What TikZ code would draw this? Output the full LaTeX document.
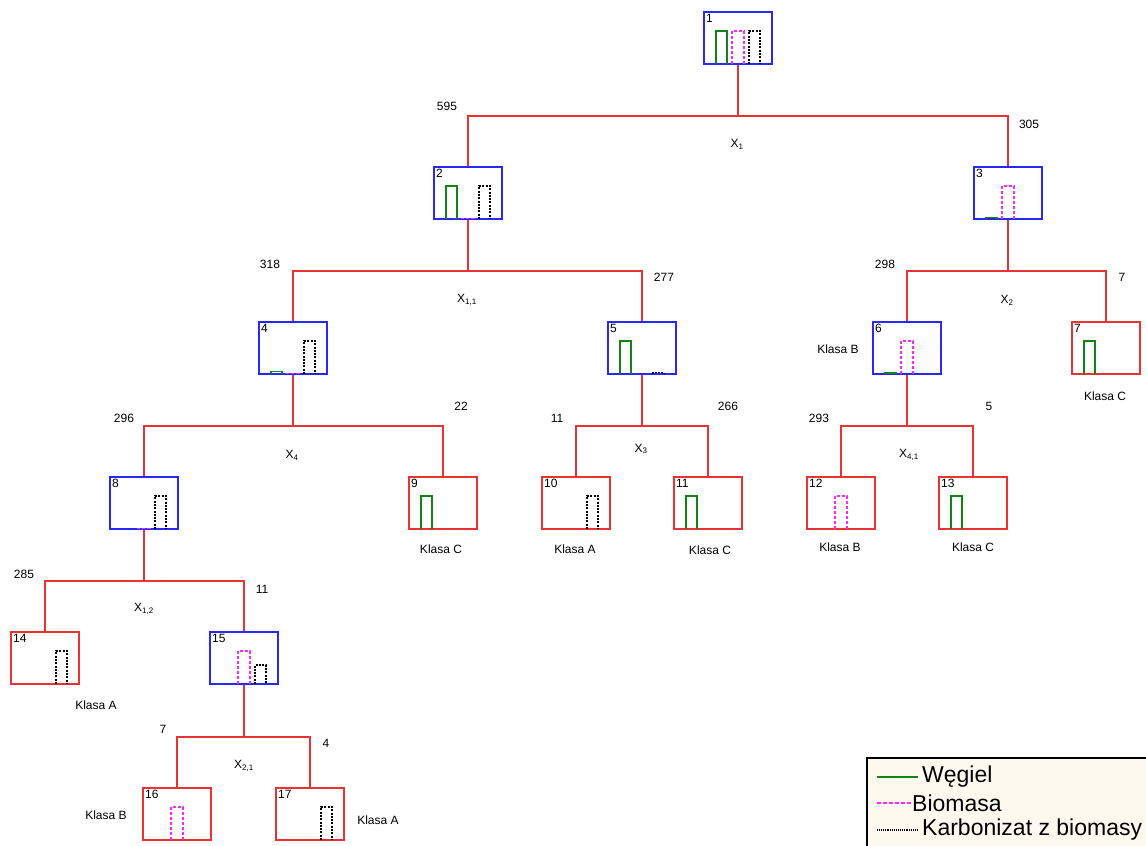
\documentclass[tikz,border=0pt]{standalone}
\usepackage{fontspec}
\setmainfont{Liberation Sans}
\definecolor{boxblue}{RGB}{40,40,250}
\definecolor{boxred}{RGB}{235,50,50}
\definecolor{bargreen}{RGB}{20,130,20}
\definecolor{barpink}{RGB}{250,40,250}
\definecolor{legfill}{RGB}{253,249,238}
\tikzset{
  tbox/.style={draw, line width=2pt, minimum width=68pt, minimum height=52pt, inner sep=0pt, fill=white},
  inner/.style={tbox, draw=boxblue},
  leaf/.style={tbox, draw=boxred},
  conn/.style={draw=boxred, line width=2pt},
  num/.style={font=\fontsize{12}{14}\selectfont, inner sep=0pt, anchor=north west},
  lbl/.style={font=\fontsize{12}{14}\selectfont, inner sep=0pt},
  gbar/.style={draw=bargreen, line width=1.4pt},
  pbar/.style={draw=barpink, line width=1.4pt, dash pattern=on 3pt off 2pt},
  kbar/.style={draw=black, line width=1.3pt, dash pattern=on 2pt off 1.3pt},
  legtext/.style={anchor=west, inner sep=0pt, font=\fontsize{23}{25}\selectfont},
}
% #1 cx, #2 bottom, #3 height
\newcommand\gb[3]{\draw[gbar] (#1-22,#2) -- (#1-22,#2-#3) -- (#1-11,#2-#3) -- (#1-11,#2);}
\newcommand\pb[3]{\draw[pbar] (#1-6,#2) -- (#1-6,#2-#3) -- (#1+6,#2-#3) -- (#1+6,#2);}
\newcommand\kb[3]{\draw[kbar] (#1+11,#2) -- (#1+11,#2-#3) -- (#1+22,#2-#3) -- (#1+22,#2);}
\newcommand\mynode[5]{% style, name, cx, cy, number
  \node[#1] (#2) at (#3,#4) {};
  \node[num] (#2num) at ([xshift=3pt,yshift=-3pt]#2.north west) {#5};
}
\begin{document}
\begin{tikzpicture}[x=1pt,y=-1pt]
\useasboundingbox (0,0) rectangle (1146,846);
\clip (0,0) rectangle (1146,846);
\coordinate (c1) at (0,116);
\coordinate (c2) at (0,271);
\coordinate (c3) at (0,426);
\coordinate (c4) at (0,581);
\coordinate (c5) at (0,737);
% nodes
\mynode{inner}{n1}{738}{38}{1}
\mynode{inner}{n2}{468}{193}{2}
\mynode{inner}{n3}{1008}{193}{3}
\mynode{inner}{n4}{293}{348}{4}
\mynode{inner}{n5}{642}{348}{5}
\mynode{inner}{n6}{907}{348}{6}
\mynode{leaf}{n7}{1106}{348}{7}
\mynode{inner}{n8}{144}{503}{8}
\mynode{leaf}{n9}{443}{503}{9}
\mynode{leaf}{n10}{576}{503}{10}
\mynode{leaf}{n11}{708}{503}{11}
\mynode{leaf}{n12}{841}{503}{12}
\mynode{leaf}{n13}{973}{503}{13}
\mynode{leaf}{n14}{45}{658}{14}
\mynode{inner}{n15}{244}{658}{15}
\mynode{leaf}{n16}{177}{814}{16}
\mynode{leaf}{n17}{310}{814}{17}
% bars
\gb{738}{64}{33}\pb{738}{64}{33}\kb{738}{64}{33}
\gb{468}{219}{33}\pb{468}{219}{0.8}\kb{468}{219}{33}
\gb{1008}{219}{1.5}\pb{1008}{219}{33}
\gb{293}{374}{2.5}\pb{293}{374}{0.8}\kb{293}{374}{33}
\gb{642}{374}{33}\kb{642}{374}{1.5}
\gb{907}{374}{1}\pb{907}{374}{33}
\gb{1106}{374}{33}
\pb{144}{529}{0.8}\kb{144}{529}{33}
\gb{443}{529}{33}
\kb{576}{529}{33}
\gb{708}{529}{33}
\pb{841}{529}{33}
\gb{973}{529}{33}
\kb{45}{684}{33}
\pb{244}{684}{33}\kb{244}{684}{19}
\pb{177}{840}{33}
\kb{310}{840}{33}
% connectors
\draw[conn] (n1.south) -- (n1.south |- c1) -| (n2.north);
\draw[conn] (n1.south |- c1) -| (n3.north);
\draw[conn] (n2.south) -- (n2.south |- c2) -| (n4.north);
\draw[conn] (n2.south |- c2) -| (n5.north);
\draw[conn] (n3.south) -- (n3.south |- c2) -| (n6.north);
\draw[conn] (n3.south |- c2) -| (n7.north);
\draw[conn] (n4.south) -- (n4.south |- c3) -| (n8.north);
\draw[conn] (n4.south |- c3) -| (n9.north);
\draw[conn] (n5.south) -- (n5.south |- c3) -| (n10.north);
\draw[conn] (n5.south |- c3) -| (n11.north);
\draw[conn] (n6.south) -- (n6.south |- c3) -| (n12.north);
\draw[conn] (n6.south |- c3) -| (n13.north);
\draw[conn] (n8.south) -- (n8.south |- c4) -| (n14.north);
\draw[conn] (n8.south |- c4) -| (n15.north);
\draw[conn] (n15.south) -- (n15.south |- c5) -| (n16.north);
\draw[conn] (n15.south |- c5) -| (n17.north);
% edge labels
\node[lbl] (e1) at (447,106) {595};
\node[lbl] (e2) at (1029,124) {305};
\node[lbl] (s1) at (737,144) {X\textsubscript{1}};
\node[lbl] (e3) at (270,264) {318};
\node[lbl] (e4) at (664,277) {277};
\node[lbl] (s2) at (467,300) {X\textsubscript{1,1}};
\node[lbl] (e5) at (885,264) {298};
\node[lbl] (e6) at (1122,277) {7};
\node[lbl] (s3) at (1007,300) {X\textsubscript{2}};
\node[lbl] (e7) at (124,418) {296};
\node[lbl] (e8) at (461,406) {22};
\node[lbl] (s4) at (292,455) {X\textsubscript{4}};
\node[lbl] (e9) at (557,418) {11};
\node[lbl] (e10) at (728,406) {266};
\node[lbl] (s5) at (641,449) {X\textsubscript{3}};
\node[lbl] (e11) at (819,418) {293};
\node[lbl] (e12) at (989,406) {5};
\node[lbl] (s6) at (909,455) {X\textsubscript{4,1}};
\node[lbl] (e13) at (24,574) {285};
\node[lbl] (e14) at (262,589) {11};
\node[lbl] (s7) at (144,609) {X\textsubscript{1,2}};
\node[lbl] (e15) at (163,729) {7};
\node[lbl] (e16) at (326,743) {4};
\node[lbl] (s8) at (244,766) {X\textsubscript{2,1}};
% class labels
\node[lbl] (k6) at (838,349) {Klasa B};
\node[lbl] (k7) at (1105,396) {Klasa C};
\node[lbl] (k9) at (441,549) {Klasa C};
\node[lbl] (k10) at (575,549) {Klasa A};
\node[lbl] (k11) at (710,550) {Klasa C};
\node[lbl] (k12) at (840,547) {Klasa B};
\node[lbl] (k13) at (973,547) {Klasa C};
\node[lbl] (k14) at (96,705) {Klasa A};
\node[lbl] (k16) at (106,815) {Klasa B};
\node[lbl] (k17) at (378,820) {Klasa A};
% legend
\node[draw=black, line width=1.5pt, fill=legfill, minimum width=300pt, minimum height=110pt, anchor=north west, inner sep=0pt] (leg) at (866,757) {};
\coordinate (lg1a) at (877,777); \coordinate (lg1b) at (918,777);
\coordinate (lg2a) at (877,803); \coordinate (lg2b) at (911,803);
\coordinate (lg3a) at (877,830); \coordinate (lg3b) at (918,830);
\draw[bargreen, line width=1.5pt] (lg1a) -- (lg1b);
\draw[barpink, line width=1.3pt, dash pattern=on 3.5pt off 2.5pt] (lg2a) -- (lg2b);
\draw[black, line width=1.1pt, dash pattern=on 1pt off 0.9pt] (lg3a) -- (lg3b);
\node[legtext] (t1) at (922,777) {Węgiel};
\node[legtext] (t2) at (912,803) {Biomasa};
\node[legtext] (t3) at (922,830) {Karbonizat z biomasy};
\end{tikzpicture}
\end{document}
